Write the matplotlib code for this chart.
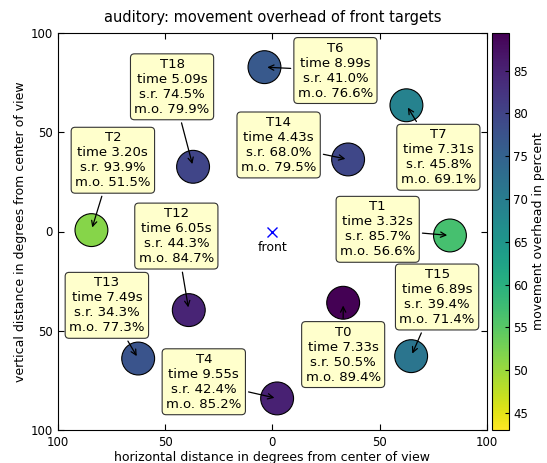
import numpy as np
import matplotlib.pyplot as plt
from matplotlib.ticker import FuncFormatter

# targets (front), positions in degrees from center of view
names = ["T0", "T1", "T2", "T4", "T6", "T7", "T12", "T13", "T14", "T15", "T18"]
pos_x = [33.0, 82.8, -84.4, 2.2, -3.7, 62.5, -39.0, -62.6, 35.3, 64.7, -37.0]
pos_y = [-35.9, -2.0, 0.7, -84.1, 82.8, 63.6, -39.6, -64.0, 36.3, -62.8, 32.6]
times = [7.33, 3.32, 3.20, 9.55, 8.99, 7.31, 6.05, 7.49, 4.43, 6.89, 5.09]
success = [50.5, 85.7, 93.9, 42.4, 41.0, 45.8, 44.3, 34.3, 68.0, 39.4, 74.5]
overhead = [89.4, 56.6, 51.5, 85.2, 76.6, 69.1, 84.7, 77.3, 79.5, 71.4, 79.9]
# where the label boxes sit
box_x = [33.0, 49.1, -74.4, -32.0, 29.4, 77.4, -44.8, -77.2, 2.9, 76.8, -46.8]
box_y = [-62.0, 1.1, 35.9, -75.7, 81.1, 37.4, -2.3, -37.2, 43.6, -33.0, 72.9]
vmin, vmax = 43.0, 89.4

plt.rcParams['font.family'] = 'DejaVu Sans'
plt.rcParams['xtick.direction'] = 'in'
plt.rcParams['ytick.direction'] = 'in'

fig = plt.figure(figsize=(5.47, 4.63), dpi=100)
ax = fig.add_axes([0.106, 0.0713, 0.784, 0.8574])
cax = fig.add_axes([0.8995, 0.0713, 0.031, 0.8574])

sc = ax.scatter(pos_x, pos_y, c=overhead, cmap='viridis_r', vmin=vmin, vmax=vmax,
                s=560, edgecolors='black', linewidths=0.8, zorder=2)

for i in range(len(names)):
    txt = f"{names[i]}\ntime {times[i]:.2f}s\ns.r. {success[i]:.1f}%\nm.o. {overhead[i]:.1f}%"
    ax.annotate(txt, xy=(pos_x[i], pos_y[i]), xytext=(box_x[i], box_y[i]),
                ha='center', va='center', fontsize=9.5, zorder=3,
                bbox=dict(boxstyle='round,pad=0.3', fc='#ffffcc', ec='#333333', lw=0.8),
                arrowprops=dict(arrowstyle='->', color='black', lw=0.9, shrinkB=2))

ax.plot([0], [0], 'x', color='blue', ms=7, mew=1.0)
ax.text(0, -8, "front", ha='center', va='center', fontsize=9)

ax.set_xlim(-100, 100)
ax.set_ylim(-100, 100)
ax.set_xticks([-100, -50, 0, 50, 100])
ax.set_yticks([-100, -50, 0, 50, 100])
absfmt = FuncFormatter(lambda v, p: f"{abs(v):.0f}")
ax.xaxis.set_major_formatter(absfmt)
ax.yaxis.set_major_formatter(absfmt)
ax.tick_params(top=True, right=True, length=4, labelsize=8.5, pad=4)
ax.set_xlabel("horizontal distance in degrees from center of view", fontsize=9, labelpad=2)
ax.set_ylabel("vertical distance in degrees from center of view", fontsize=9, labelpad=2)
ax.set_title("auditory: movement overhead of front targets", fontsize=10.5, pad=8)

cb = fig.colorbar(sc, cax=cax)
cb.set_ticks([45, 50, 55, 60, 65, 70, 75, 80, 85])
cb.ax.tick_params(labelsize=8.5, length=3, direction='in', pad=3)
cb.set_label("movement overhead in percent", fontsize=9, labelpad=3)

fig.savefig("out.png", dpi=100)
